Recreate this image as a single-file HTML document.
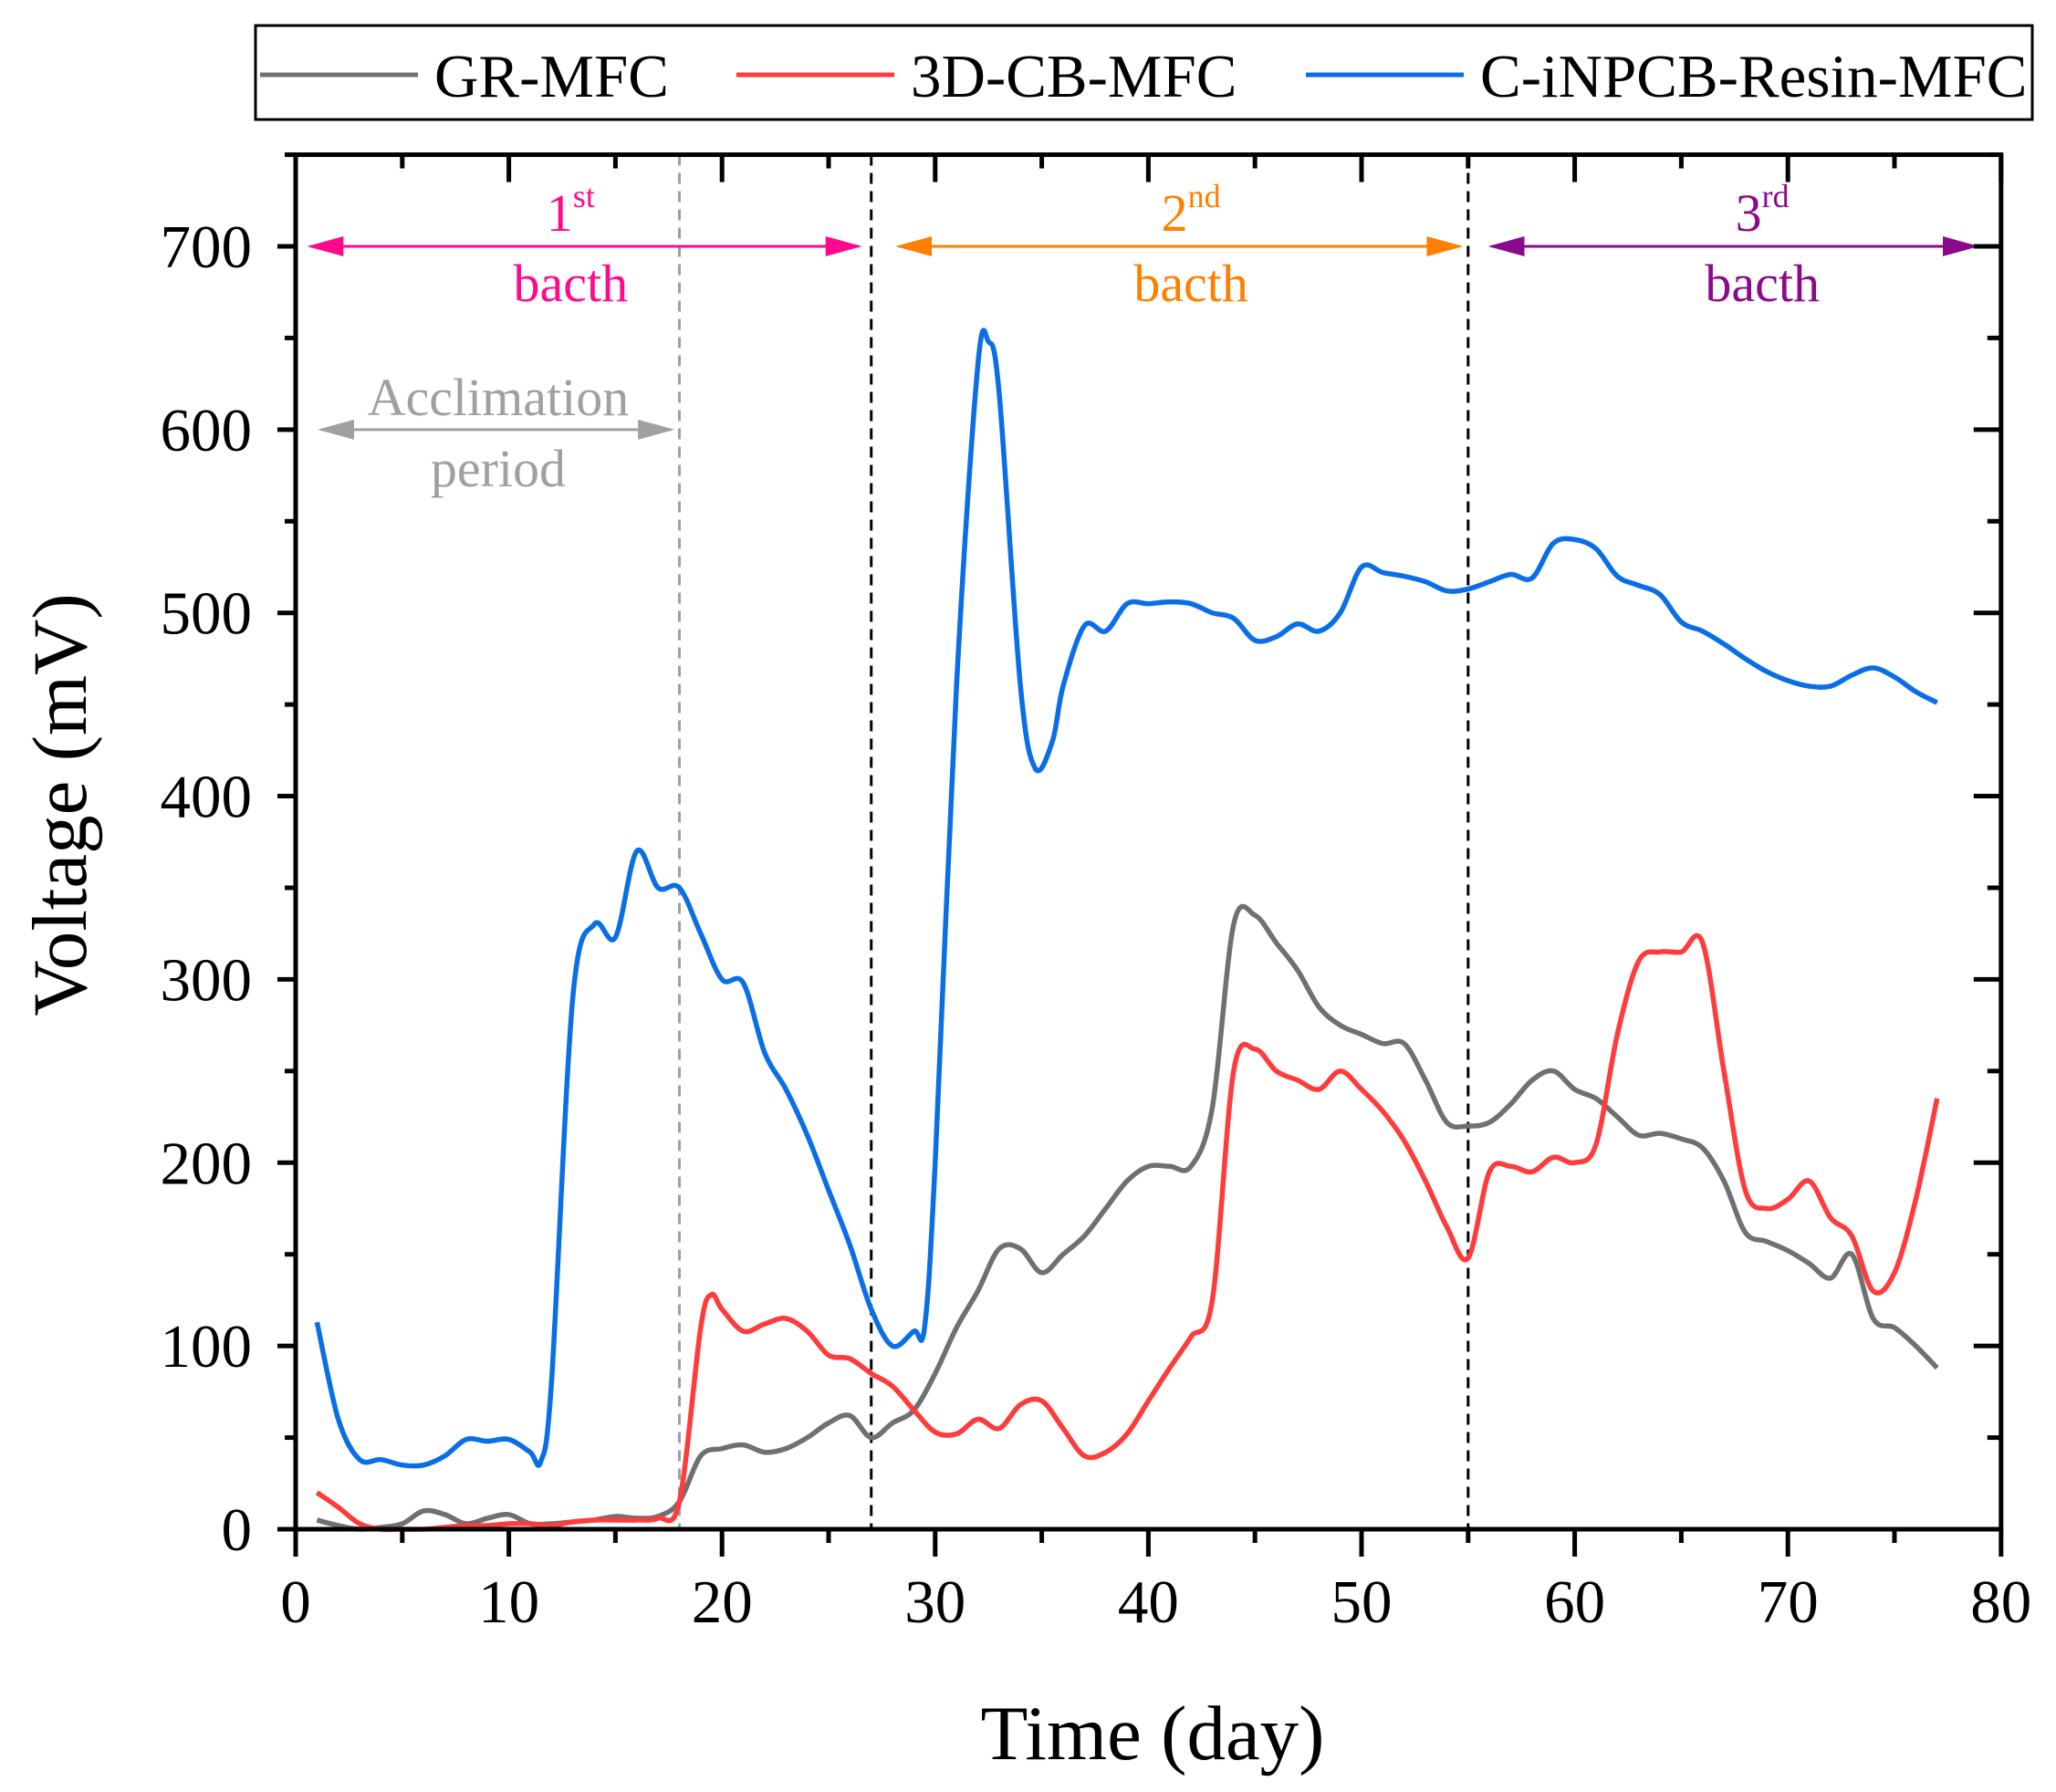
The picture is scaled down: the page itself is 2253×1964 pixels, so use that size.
<!DOCTYPE html>
<html><head><meta charset="utf-8"><style>
html,body{margin:0;padding:0;background:#fff;}
svg{display:block;font-family:"Liberation Serif",serif;}
</style></head><body>
<svg id="chart" width="2253" height="1964" viewBox="0 0 2253 1964" xmlns="http://www.w3.org/2000/svg">
<defs>
<marker id="apink" viewBox="0 0 10 10" refX="9" refY="5" markerUnits="userSpaceOnUse" markerWidth="40" markerHeight="22" orient="auto-start-reverse" preserveAspectRatio="none"><path d="M0,0L10,5L0,10z" fill="#ff0a8c"/></marker>
<marker id="aorange" viewBox="0 0 10 10" refX="9" refY="5" markerUnits="userSpaceOnUse" markerWidth="40" markerHeight="22" orient="auto-start-reverse" preserveAspectRatio="none"><path d="M0,0L10,5L0,10z" fill="#ff8000"/></marker>
<marker id="apurple" viewBox="0 0 10 10" refX="9" refY="5" markerUnits="userSpaceOnUse" markerWidth="40" markerHeight="22" orient="auto-start-reverse" preserveAspectRatio="none"><path d="M0,0L10,5L0,10z" fill="#8b0a8b"/></marker>
<marker id="agray" viewBox="0 0 10 10" refX="9" refY="5" markerUnits="userSpaceOnUse" markerWidth="40" markerHeight="22" orient="auto-start-reverse" preserveAspectRatio="none"><path d="M0,0L10,5L0,10z" fill="#a0a0a0"/></marker>
</defs>
<g id="marks"></g>
<g id="axes"></g>
<g id="legend">
<rect x="280" y="28" width="1947" height="103" fill="none" stroke="#000" stroke-width="3"/>
<line x1="285" y1="82" x2="458" y2="82" stroke="#707070" stroke-width="5"/>
<text x="476" y="106" font-size="67">GR-MFC</text>
<line x1="807" y1="82" x2="980" y2="82" stroke="#ff3b3b" stroke-width="5"/>
<text x="998" y="106" font-size="67">3D-CB-MFC</text>
<line x1="1431" y1="82" x2="1604" y2="82" stroke="#0a6ee6" stroke-width="5"/>
<text x="1622" y="106" font-size="67">C-iNPCB-Resin-MFC</text>
</g>
<text x="1263" y="1928" font-size="85" text-anchor="middle">Time (day)</text>
<text transform="translate(94,882) rotate(-90)" font-size="85" text-anchor="middle">Voltage (mV)</text>
</svg>
<script>
const days=[1,2,3,4,5,6,7,8,9,10,11,12,13,14,15,16,17,18,19,20,21,22,23,24,25,26,27,28,29,30,31,32,33,34,35,36,37,38,39,40,41,42,43,44,45,46,47,48,49,50,51,52,53,54,55,56,57,58,59,60,61,62,63,64,65,66,67,68,69,70,71,72,73,74,75,76,77];
const grValues=[5,2,0,1,3,10,8,3,6,8,3,3,4,5,7,6,7,15,40,44,46,42,44,50,58,62,50,58,65,85,110,130,153,153,140,150,160,175,190,198,198,198,230,330,335,320,305,285,275,270,265,265,245,222,220,222,232,245,250,240,235,225,215,216,213,208,190,162,157,152,145,137,150,115,110,100,88];
const cbDays=[1,2,3,4,5,6,7,8,9,10,11,12,13,14,15,16,17,18,19,19.5,20,21,22,23,24,25,26,27,28,29,30,31,32,33,34,35,36,37,38,39,40,41,42,43,44,45,46,47,48,49,50,51,52,53,54,55,56,57,58,59,60,61,62,63,64,65,66,67,68,69,70,71,72,73,74,75,76,77];
const cbValues=[20,12,3,0,0,0,1,2,2,3,3,2,4,5,5,5,6,15,110,128,120,108,112,115,108,95,93,85,78,65,53,52,60,55,68,70,55,40,42,52,70,88,105,125,250,262,250,245,240,250,240,228,212,190,165,148,195,198,195,203,200,210,270,310,315,315,320,250,185,175,180,190,170,160,130,140,180,235];
const cinDays=[1,2,3,4,5,6,7,8,9,10,11,11.5,12,13,14,15,16,17,18,19,20,21,22,23,24,25,26,27,28,29,29.5,30,31,32,32.5,33,34,34.7,35.5,36,37,38,39,40,41,42,43,44,45,46,47,48,49,50,51,52,53,54,55,56,57,58,59,60,61,62,63,64,65,66,67,68,69,70,71,72,73,74,75,76,77];
const cinValues=[113,60,38,38,35,35,40,49,48,49,42,37,80,290,330,323,370,350,350,325,300,298,260,240,215,185,155,120,100,108,110,200,460,635,648,620,460,415,430,460,493,490,505,505,506,505,500,497,485,487,494,490,500,525,522,520,517,512,513,517,521,519,538,540,535,520,515,510,495,490,483,475,468,463,460,460,466,470,465,457,451];
const xTicks=[0,10,20,30,40,50,60,70,80];
const yTicks=[0,100,200,300,400,500,600,700];
const batchLines=[27,55];
const acclimEnd=[18];

const X=v=>324+v*23.36;
const Y=v=>1676-v*2.0086;
const NS="http://www.w3.org/2000/svg";
const marks=document.getElementById('marks');
const axes=document.getElementById('axes');
function mk(tag,attrs,parent){const e=document.createElementNS(NS,tag);for(const k in attrs)e.setAttribute(k,attrs[k]);parent.appendChild(e);return e;}
function smooth(xs,ys){const p=xs.map((x,i)=>[X(x),Y(ys[i])]);let d=`M${p[0][0]},${p[0][1]}`;
for(let i=0;i<p.length-1;i++){const p0=p[i-1]||p[i],p1=p[i],p2=p[i+1],p3=p[i+2]||p2;
d+=`C${p1[0]+(p2[0]-p0[0])/6},${p1[1]+(p2[1]-p0[1])/6} ${p2[0]-(p3[0]-p1[0])/6},${p2[1]-(p3[1]-p1[1])/6} ${p2[0]},${p2[1]}`;}return d;}

acclimEnd.forEach(v=>{const l=mk('line',{x1:X(v),x2:X(v),y1:Y(750),y2:Y(0),stroke:'#a0a0a0','stroke-width':3,'stroke-dasharray':'12,8'},marks);

});
batchLines.forEach(v=>{const l=mk('line',{x1:X(v),x2:X(v),y1:Y(750),y2:Y(0),stroke:'#000','stroke-width':3,'stroke-dasharray':'12,8'},marks);

});

const s1=mk('path',{d:smooth(days,grValues),fill:'none',stroke:'#707070','stroke-width':5.5},marks);


const s2=mk('path',{d:smooth(cbDays,cbValues),fill:'none',stroke:'#ff3b3b','stroke-width':5.5},marks);


const s3=mk('path',{d:smooth(cinDays,cinValues),fill:'none',stroke:'#0a6ee6','stroke-width':5.5},marks);



function arrow(x1,x2,v,col,m,name){const l=mk('line',{x1:X(x1),x2:X(x2),y1:Y(v),y2:Y(v),stroke:col,'stroke-width':3,'marker-start':`url(#${m})`,'marker-end':`url(#${m})`},marks);

}
function txt(x,y,s,col,size,name){const t=mk('text',{x:x,y:y,fill:col,'font-size':size,'text-anchor':'middle'},marks);t.textContent=s;

return t;}
arrow(0.7,26.4,700,'#ff0a8c','apink','batch-1-arrow');
arrow(28.3,54.6,700,'#ff8000','aorange','batch-2-arrow');
arrow(56.1,78.8,700,'#8b0a8b','apurple','batch-3-arrow');
arrow(1.2,17.6,600,'#a0a0a0','agray','acclimation-arrow');
function ord(cx,num,sup,col,name){const t=mk('text',{x:X(cx),y:253,fill:col,'font-size':58,'text-anchor':'middle'},marks);


t.appendChild(document.createTextNode(num));const ts=mk('tspan',{'font-size':36,dy:-26},t);ts.textContent=sup;
txt(X(cx),330,'bacth',col,58,name+'-bacth');}
ord(12.9,'1','st','#ff0a8c','batch-1-label');
ord(42,'2','nd','#ff8000','batch-2-label');
ord(68.8,'3','rd','#8b0a8b','batch-3-label');
txt(X(9.5),455,'Acclimation','#a0a0a0',58,'acclimation-label');
txt(X(9.5),533,'period','#a0a0a0',58,'acclimation-period-label');

const fr=mk('rect',{x:X(0),y:Y(750),width:X(80)-X(0),height:Y(0)-Y(750),fill:'none',stroke:'#000','stroke-width':5},axes);


for(let v=0;v<=80;v+=5){const maj=v%10===0;
mk('line',{x1:X(v),x2:X(v),y1:Y(0),y2:Y(0)+(maj?30:15),stroke:'#000','stroke-width':5},axes);
mk('line',{x1:X(v),x2:X(v),y1:Y(750),y2:Y(750)+(maj?30:15),stroke:'#000','stroke-width':5},axes);}
for(let v=0;v<=750;v+=50){const maj=v%100===0;
mk('line',{x1:X(0),x2:X(0)-(maj?20:12),y1:Y(v),y2:Y(v),stroke:'#000','stroke-width':5},axes);
mk('line',{x1:X(80),x2:X(80)-(maj?30:15),y1:Y(v),y2:Y(v),stroke:'#000','stroke-width':5},axes);}
xTicks.forEach(v=>{const t=mk('text',{x:X(v),y:1778,'font-size':67,'text-anchor':'middle'},axes);t.textContent=v;

});
yTicks.forEach(v=>{const t=mk('text',{x:276,y:Y(v)+23,'font-size':67,'text-anchor':'end'},axes);t.textContent=v;

});
</script>
</body></html>
